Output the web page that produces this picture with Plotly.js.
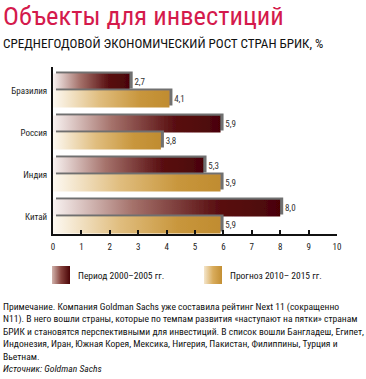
<!DOCTYPE html>
<html>
<head>
<meta charset="utf-8">
<script src="https://cdn.plot.ly/plotly-3.0.1.min.js"></script>
<style>
html,body{margin:0;padding:0;background:#fff;}
#chart{width:366px;height:379px;}
</style>
</head>
<body>
<div id="chart"></div>
<script>
// ---- data ----
const countries = ['Бразилия', 'Россия', 'Индия', 'Китай'];
const period2000_2005 = [2.7, 5.9, 5.3, 8.0];
const forecast2010_2015 = [4.1, 3.8, 5.9, 5.9];
const seriesNames = ['Период 2000–2005 гг.', 'Прогноз 2010– 2015 гг.'];
const xTicks = [0, 1, 2, 3, 4, 5, 6, 7, 8, 9, 10];
const titleText = 'Объекты для инвестиций';
const subtitleText = 'СРЕДНЕГОДОВОЙ ЭКОНОМИЧЕСКИЙ РОСТ СТРАН БРИК, %';
const noteLines = [
  'Примечание. Компания Goldman Sachs уже составила рейтинг Next 11 (сокращенно',
  'N11). В него вошли страны, которые по темпам развития «наступают на пятки» странам',
  'БРИК и становятся перспективными для инвестиций. В список вошли Бангладеш, Египет,',
  'Индонезия, Иран, Южная Корея, Мексика, Нигерия, Пакистан, Филиппины, Турция и',
  'Вьетнам.'
];
const sourceText = 'Источник: Goldman Sachs';

// ---- layout helpers ----
const W = 366, H = 379;
const PL = 53, PR = 337, PT = 67, PB = 234;
const px2x = p => (p - PL) / (PR - PL);
const px2y = p => (PB - p) / (PB - PT);
const FONT = '"Liberation Sans Narrow", "Arial Narrow", "Roboto Condensed", Roboto, sans-serif';
const fmt = v => '\u2009' + v.toFixed(1).replace('.', ',');

const data = [
  {
    type: 'bar', orientation: 'h', name: seriesNames[0],
    y: countries, x: period2000_2005,
    text: period2000_2005.map(fmt), textposition: 'outside',
    textfont: {family: FONT, size: 9, color: '#333'},
    constraintext: 'none', cliponaxis: false,
    marker: {color: '#4a0406'}, hoverinfo: 'skip'
  },
  {
    type: 'bar', orientation: 'h', name: seriesNames[1],
    y: countries, x: forecast2010_2015,
    text: forecast2010_2015.map(fmt), textposition: 'outside',
    textfont: {family: FONT, size: 9, color: '#333'},
    constraintext: 'none', cliponaxis: false,
    marker: {color: '#c08c30'}, hoverinfo: 'skip'
  }
];

const annotations = [
  {text: titleText, x: px2x(1), y: px2y(16), xanchor: 'left', yanchor: 'middle',
   font: {family: FONT, size: 26.5, color: '#d41a4c'}},
  {text: subtitleText, x: px2x(1), y: px2y(44), xanchor: 'left', yanchor: 'middle',
   font: {family: FONT, size: 13.1, color: '#111'}},
  {text: seriesNames[0], x: px2x(76), y: px2y(275), xanchor: 'left', yanchor: 'middle',
   font: {family: FONT, size: 9.5, color: '#111'}},
  {text: seriesNames[1], x: px2x(228), y: px2y(275), xanchor: 'left', yanchor: 'middle',
   font: {family: FONT, size: 9.5, color: '#111'}},
  {text: noteLines.join('<br>') + '<br><i>' + sourceText + '</i>', x: px2x(1), y: px2y(298.5),
   xanchor: 'left', yanchor: 'top', align: 'left',
   font: {family: FONT, size: 9.6, color: '#111'}}
].map(a => Object.assign({xref: 'paper', yref: 'paper', showarrow: false}, a));

const shapes = [
  {type: 'rect', xref: 'paper', yref: 'paper', x0: px2x(52), x1: px2x(70), y0: px2y(284), y1: px2y(266),
   fillcolor: '#4a0406', line: {width: 0}},
  {type: 'rect', xref: 'paper', yref: 'paper', x0: px2x(204), x1: px2x(222), y0: px2y(284), y1: px2y(266),
   fillcolor: '#c08c30', line: {width: 0}}
];

const layout = {
  width: W, height: H,
  margin: {l: PL, r: W - PR, t: PT, b: H - PB, pad: 0},
  paper_bgcolor: '#fff', plot_bgcolor: '#fff',
  showlegend: false,
  barmode: 'group', bargap: 0.19, bargroupgap: 0,
  font: {family: FONT, size: 9, color: '#222'},
  xaxis: {
    range: [0, 10], tickvals: xTicks, ticktext: xTicks.map(String),
    showgrid: false, zeroline: false,
    showline: true, linecolor: '#111', linewidth: 2,
    ticks: 'inside', ticklen: 4, tickwidth: 2, tickcolor: '#111',
    ticklabelstandoff: 3,
    tickfont: {family: FONT, size: 9, color: '#222'}, fixedrange: true
  },
  yaxis: {
    type: 'category', range: [3.416, -0.56],
    showgrid: false, zeroline: false,
    showline: true, linecolor: '#111', linewidth: 2,
    ticks: '', ticklabelstandoff: 2,
    tickfont: {family: FONT, size: 9, color: '#222'}, fixedrange: true
  },
  annotations: annotations,
  shapes: shapes
};

const NS = 'http://www.w3.org/2000/svg';
function addGradient(defs, id, stops) {
  const g = document.createElementNS(NS, 'linearGradient');
  g.setAttribute('id', id);
  g.setAttribute('x1', '0'); g.setAttribute('y1', '0');
  g.setAttribute('x2', '1'); g.setAttribute('y2', '0');
  stops.forEach(([o, c]) => {
    const s = document.createElementNS(NS, 'stop');
    s.setAttribute('offset', o); s.setAttribute('stop-color', c);
    g.appendChild(s);
  });
  defs.appendChild(g);
}

Plotly.newPlot('chart', data, layout, {staticPlot: true, displayModeBar: false}).then(gd => {
  const svg = gd.querySelector('svg.main-svg');
  let defs = svg.querySelector('defs');
  if (!defs) { defs = document.createElementNS(NS, 'defs'); svg.insertBefore(defs, svg.firstChild); }
  addGradient(defs, 'gradDark', [[0, '#f8f2f1'], [0.35, '#a5726b'], [0.72, '#5a1012'], [1, '#4a0406']]);
  addGradient(defs, 'gradGold', [[0, '#fdf9f2'], [0.4, '#e0bd7e'], [0.75, '#c8963c'], [1, '#c08c30']]);
  addGradient(defs, 'legDark', [[0, '#d2b4ad'], [0.5, '#86423c'], [1, '#4a0406']]);
  addGradient(defs, 'legGold', [[0, '#f4e6cc'], [0.5, '#d9ac5c'], [1, '#c38f34']]);
  const f = document.createElementNS(NS, 'filter');
  f.setAttribute('id', 'barShadow');
  f.setAttribute('x', '-0.05'); f.setAttribute('y', '-0.4');
  f.setAttribute('width', '1.2'); f.setAttribute('height', '1.8');
  f.innerHTML = '<feOffset in="SourceAlpha" dx="3" dy="-2" result="off"/>' +
    '<feFlood flood-color="#707070" result="fl"/>' +
    '<feComposite in="fl" in2="off" operator="in" result="sh"/>' +
    '<feMerge><feMergeNode in="sh"/><feMergeNode in="SourceGraphic"/></feMerge>';
  defs.appendChild(f);
  const grads = ['gradDark', 'gradGold'];
  gd.querySelectorAll('.barlayer .trace').forEach((tr, i) => {
    tr.querySelectorAll('.point path').forEach(p => {
      p.style.fill = 'url(#' + grads[i] + ')';
      p.setAttribute('filter', 'url(#barShadow)');
    });
  });
  const legs = ['legDark', 'legGold'];
  gd.querySelectorAll('.shapelayer path').forEach((p, i) => {
    if (legs[i]) p.style.fill = 'url(#' + legs[i] + ')';
  });
});
</script>
</body>
</html>
